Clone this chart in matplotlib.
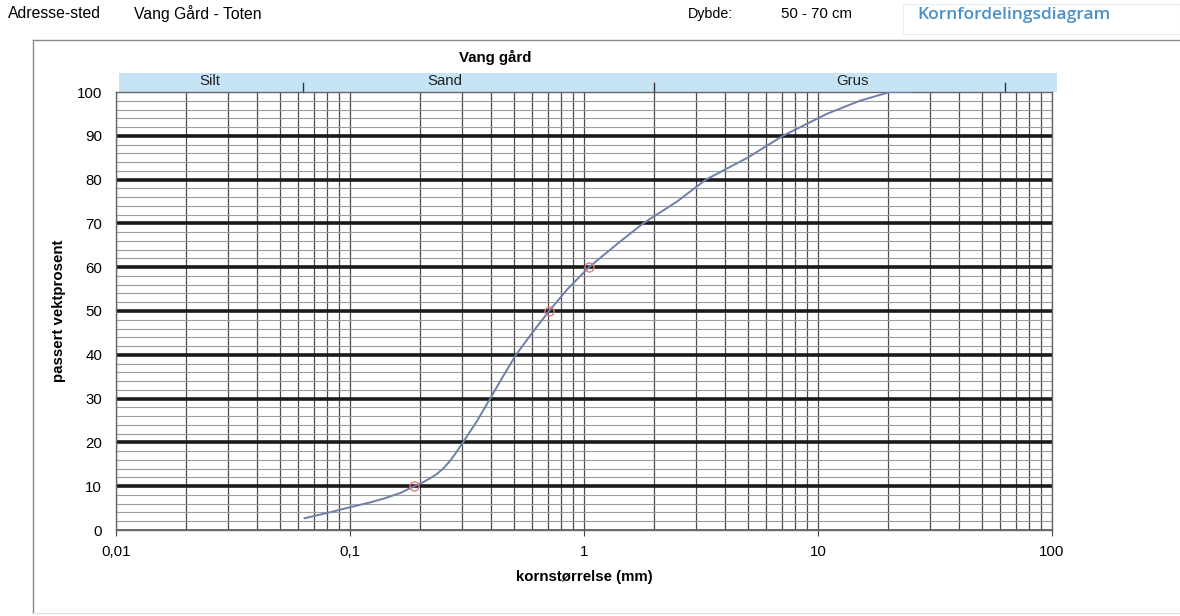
import matplotlib
matplotlib.use("Agg")
import matplotlib.pyplot as plt
from matplotlib.ticker import FixedLocator, FuncFormatter, MultipleLocator, NullFormatter, LogLocator
from matplotlib.patches import Rectangle
from matplotlib.lines import Line2D
import matplotlib.transforms as mtransforms

plt.rcParams['font.family'] = ['Liberation Sans', 'DejaVu Sans']

# ---- data ----
grain_mm = [0.064, 0.08, 0.1, 0.12, 0.14, 0.165, 0.188, 0.205, 0.22, 0.235, 0.25,
            0.265, 0.28, 0.304, 0.35, 0.397, 0.45, 0.512, 0.6, 0.709, 0.85, 1.05,
            1.4, 1.79, 2.5, 3.32, 5.0, 7.08, 10.9, 15.1, 20.3, 25.0]
passing_pct = [2.7, 3.9, 5.2, 6.2, 7.2, 8.5, 10.0, 10.9, 11.8, 12.8, 14.0,
               15.5, 17.2, 20.0, 25.0, 30.0, 35.0, 40.0, 45.0, 50.0, 55.0, 60.0,
               65.5, 70.0, 75.0, 80.0, 85.0, 90.0, 95.0, 98.0, 100.0, 100.0]
marker_mm = [0.188, 0.709, 1.05]
marker_pct = [10, 50, 60]

x_tick_values = [0.01, 0.1, 1, 10, 100]
x_tick_labels = ["0,01", "0,1", "1", "10", "100"]
y_tick_values = [0, 10, 20, 30, 40, 50, 60, 70, 80, 90, 100]

band_labels = ["Silt", "Sand", "Grus"]
band_label_x = [0.0252, 0.255, 14.1]
band_boundaries = [0.063, 2, 63]

chart_title = "Vang gård"
x_label = "kornstørrelse (mm)"
y_label = "passert vektprosent"

# ---- figure ----
W, H = 1180, 616
fig = plt.figure(figsize=(W / 100, H / 100), dpi=100)
ax = fig.add_axes([116 / W, (H - 530) / H, (1052 - 116) / W, (530 - 92) / H])

ax.set_xscale('log')
ax.set_xlim(0.01, 100)
ax.set_ylim(0, 100)

ax.xaxis.set_major_locator(FixedLocator(x_tick_values))
ax.xaxis.set_major_formatter(FuncFormatter(
    lambda v, p: x_tick_labels[x_tick_values.index(v)] if v in x_tick_values else ""))
ax.xaxis.set_minor_locator(LogLocator(base=10, subs=range(2, 10), numticks=20))
ax.xaxis.set_minor_formatter(NullFormatter())
ax.yaxis.set_major_locator(FixedLocator(y_tick_values))
ax.yaxis.set_minor_locator(MultipleLocator(2))

ax.grid(which='minor', axis='y', color='#9c9c9c', lw=0.8)
ax.grid(which='major', axis='y', color='#1a1a1a', lw=2.6)
ax.grid(which='both', axis='x', color='#4a4a4a', lw=0.9)
ax.set_axisbelow(True)
gl = ax.yaxis.get_gridlines()
for g in (gl[0], gl[-1]):
    g.set_linewidth(1.2)
    g.set_color('#555555')

for s in ax.spines.values():
    s.set_color('#666666')
    s.set_linewidth(1.0)

ax.tick_params(axis='x', which='major', length=4, color='#444444', pad=7,
               labelsize=10.8, direction='out')
ax.tick_params(axis='x', which='minor', length=0)
ax.tick_params(axis='y', which='both', length=0, pad=10, labelsize=10.8)

ax.plot(grain_mm, passing_pct, color='#6f7fa8', lw=1.4, zorder=3)
ax.plot(marker_mm, marker_pct, linestyle='none', marker='o', ms=6.5,
        mfc='none', mec='#e07f7f', mew=1.0, zorder=4)

ax.set_xlabel(x_label, fontsize=10.8, fontweight='bold', labelpad=8)
ax.set_ylabel(y_label, fontsize=10.8, fontweight='bold', labelpad=8)

# band above the plot
band = Rectangle((0.003, 1.0), 1.002, 19 / 438, transform=ax.transAxes,
                 facecolor='#c6e4f6', edgecolor='none', clip_on=False, zorder=0)
ax.add_patch(band)
blend = mtransforms.blended_transform_factory(ax.transData, ax.transAxes)
for lbl, xv in zip(band_labels, band_label_x):
    ax.text(xv, 1.0 + 11 / 438, lbl, transform=blend, ha='center', va='center',
            fontsize=10.8, color='#222222', clip_on=False)
for xv in band_boundaries:
    ax.add_line(Line2D([xv, xv], [1.0, 1.0 + 9 / 438], transform=blend,
                       color='#333333', lw=1.0, clip_on=False))

fig.text(495 / W, 1 - 57 / H, chart_title, ha='center', va='center',
         fontsize=10.8, fontweight='bold')

# header
fig.text(8 / W, 1 - 14 / H, "Adresse-sted", ha='left', va='center', fontsize=11.3)
fig.text(134 / W, 1 - 14 / H, "Vang Gård - Toten", ha='left', va='center', fontsize=11.3)
fig.text(688 / W, 1 - 14 / H, "Dybde:", ha='left', va='center', fontsize=10.3)
fig.text(781 / W, 1 - 14 / H, "50 - 70 cm", ha='left', va='center', fontsize=10.8)
fig.text(917 / W, 1 - 15 / H, "Kornfordelingsdiagram", ha='left', va='center',
         fontsize=12.5, fontweight='semibold', color='#4a90c8', family=['Open Sans', 'DejaVu Sans'])
fig.add_artist(Rectangle((903 / W, 1 - 34 / H), (W - 903) / W, 30 / H,
                         transform=fig.transFigure, facecolor='none',
                         edgecolor='#e6eef5', lw=0.8))

# outer frame
fig.add_artist(Line2D([33 / W, 1.0], [1 - 40 / H, 1 - 40 / H], transform=fig.transFigure,
                      color='#8a8a8a', lw=1.0))
fig.add_artist(Line2D([33 / W, 33 / W], [1 - 40 / H, 1 - 613 / H], transform=fig.transFigure,
                      color='#8a8a8a', lw=1.0))
fig.add_artist(Line2D([33 / W, 1.0], [1 - 613 / H, 1 - 613 / H], transform=fig.transFigure,
                      color='#dddddd', lw=0.8))

fig.savefig("out.png", dpi=100)
